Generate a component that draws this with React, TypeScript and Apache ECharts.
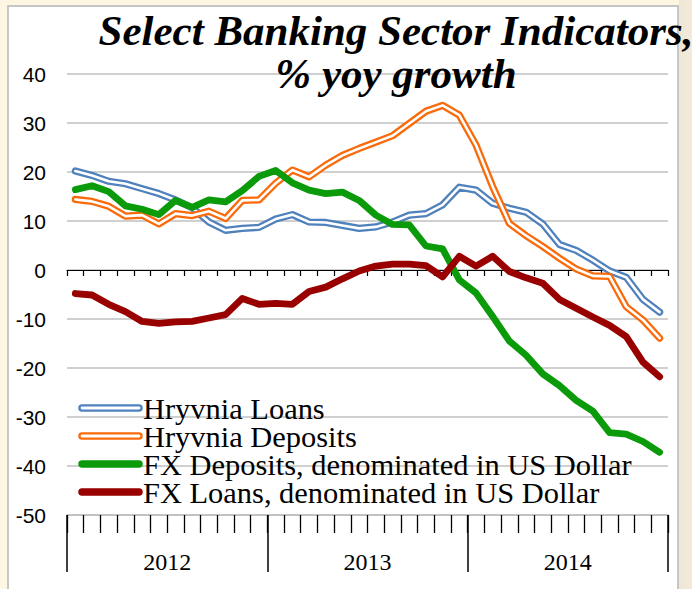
import React, { useEffect, useRef } from "react";
import * as echarts from "echarts";

const months = [
  "Jan-12", "Feb-12", "Mar-12", "Apr-12", "May-12", "Jun-12", "Jul-12", "Aug-12", "Sep-12", "Oct-12", "Nov-12", "Dec-12",
  "Jan-13", "Feb-13", "Mar-13", "Apr-13", "May-13", "Jun-13", "Jul-13", "Aug-13", "Sep-13", "Oct-13", "Nov-13", "Dec-13",
  "Jan-14", "Feb-14", "Mar-14", "Apr-14", "May-14", "Jun-14", "Jul-14", "Aug-14", "Sep-14", "Oct-14", "Nov-14", "Dec-14",
];
const years = ["2012", "2013", "2014"];

const hryvniaLoans = [
  20.2, 19.3, 18.1, 17.6, 16.6, 15.6, 14.3, 12.7, 9.8, 8.1, 8.5, 8.7,
  10.4, 11.3, 9.8, 9.7, 9.1, 8.5, 8.8, 9.8, 11.2, 11.5, 13.3, 16.9,
  16.3, 13.6, 12.6, 11.8, 9.4, 5.2, 4.0, 2.0, -0.2, -1.5, -6.0, -8.6,
];
const hryvniaDeposits = [
  14.4, 14.0, 13.0, 11.0, 11.2, 9.4, 11.5, 11.1, 12.0, 10.5, 14.2, 14.3,
  17.7, 20.4, 19.0, 21.4, 23.4, 24.8, 26.1, 27.4, 29.9, 32.4, 33.6, 31.6,
  25.5, 17.0, 9.5, 7.0, 4.8, 2.4, 0.2, -1.2, -1.3, -7.5, -10.2, -13.9,
];
const fxDeposits = [
  16.4, 17.2, 16.0, 13.1, 12.4, 11.3, 14.2, 12.8, 14.3, 13.9, 16.2, 19.1,
  20.3, 17.8, 16.3, 15.6, 15.9, 14.2, 11.2, 9.3, 9.2, 4.9, 4.3, -2.0,
  -4.7, -9.5, -14.5, -17.4, -21.2, -23.6, -26.6, -28.8, -33.2, -33.5, -35.0, -37.2,
];
const fxLoans = [
  -4.8, -5.1, -7.0, -8.5, -10.5, -10.9, -10.6, -10.5, -9.8, -9.1, -5.8, -7.0,
  -6.8, -7.0, -4.4, -3.5, -1.8, -0.2, 0.8, 1.2, 1.2, 0.9, -1.4, 2.8,
  0.8, 2.8, -0.3, -1.6, -2.7, -6.0, -7.8, -9.6, -11.3, -13.6, -18.8, -21.8,
];

const legendNames = [
  "Hryvnia Loans",
  "Hryvnia Deposits",
  "FX Deposits, denominated in US Dollar",
  "FX Loans, denominated in US Dollar",
];

const BLUE = "#4f81bd";
const ORANGE = "#fa6a0a";
const GREEN = "#0a9a0a";
const DARKRED = "#990000";

export default function App() {
  const ref = useRef<HTMLDivElement>(null);
  useEffect(() => {
    document.body.style.margin = "0";
    const chart = echarts.init(ref.current!, null, { renderer: "svg" });
    const serif = "'Liberation Serif', 'Times New Roman', serif";
    const sans = "'Liberation Sans', Arial, sans-serif";
    const lineSeries = (name: string, data: number[], color: string, width: number, z: number) => ({
      name,
      type: "line",
      data,
      symbol: "none",
      z,
      lineStyle: { color, width, join: "round", cap: "round" },
      itemStyle: { color },
      emphasis: { disabled: true },
      silent: true,
    });
    const legendColors = [BLUE, ORANGE, GREEN, DARKRED];
    const rowY = [409, 437, 465, 493];
    const legendGraphics: any[] = [];
    legendNames.forEach((_name, i) => {
      const y = rowY[i] - 1;
      legendGraphics.push({
        type: "line",
        shape: { x1: 82, y1: y, x2: 139, y2: y },
        style: { stroke: legendColors[i], lineWidth: 7.5, lineCap: "round" },
        z: 100,
      });
      if (i < 2) {
        legendGraphics.push({
          type: "line",
          shape: { x1: 82, y1: y, x2: 139, y2: y },
          style: { stroke: "#ffffff", lineWidth: 2.8, lineCap: "round" },
          z: 101,
        });
      }
    });
    legendGraphics.push({
      type: "text",
      x: 143,
      y: rowY[0] - 14,
      scaleX: 1.05,
      style: {
        text: legendNames.join("\n"),
        font: `29px ${serif}`,
        lineHeight: 28,
        fill: "#000",
        textAlign: "left",
        textVerticalAlign: "top",
        verticalAlign: "top",
      },
      z: 100,
    });

    chart.setOption({
      animation: false,
      backgroundColor: "transparent",
      grid: { left: 67, top: 74, width: 601, height: 441, containLabel: false },
      xAxis: [
        {
          type: "category",
          data: months,
          boundaryGap: true,
          position: "bottom",
          axisLine: { show: true, onZero: true, lineStyle: { color: "#000", width: 1.2 } },
          axisTick: { show: true, interval: 0, length: 6, lineStyle: { color: "#000", width: 1.2 } },
          axisLabel: { show: false },
          splitLine: { show: false },
        },
        {
          type: "category",
          data: months,
          boundaryGap: true,
          position: "bottom",
          axisLine: { show: true, onZero: false, lineStyle: { color: "#bdbdbd", width: 1.5 } },
          axisTick: { show: true, interval: 0, length: 18, lineStyle: { color: "#000", width: 1.3 } },
          axisLabel: { show: false },
          splitLine: { show: false },
        },
        {
          type: "category",
          data: years,
          boundaryGap: true,
          position: "bottom",
          axisLine: { show: false, onZero: false },
          axisTick: { show: true, interval: 0, length: 57, lineStyle: { color: "#000", width: 1.5 } },
          axisLabel: {
            show: true,
            interval: 0,
            margin: 35,
            fontFamily: serif,
            fontSize: 24,
            color: "#000",
          },
          splitLine: { show: false },
        },
      ],
      yAxis: {
        type: "value",
        min: -50,
        max: 40,
        interval: 10,
        axisLine: { show: false },
        axisTick: { show: false },
        axisLabel: { margin: 21, fontFamily: sans, fontSize: 21, color: "#000" },
        splitLine: { show: true, lineStyle: { color: "#c0c0c0", width: 1.5 } },
      },
      series: [
        lineSeries(legendNames[0], hryvniaLoans, BLUE, 7.2, 2),
        lineSeries(legendNames[0] + " core", hryvniaLoans, "#ffffff", 2.6, 3),
        lineSeries(legendNames[1], hryvniaDeposits, ORANGE, 7.2, 4),
        lineSeries(legendNames[1] + " core", hryvniaDeposits, "#ffffff", 2.6, 5),
        lineSeries(legendNames[2], fxDeposits, GREEN, 6.8, 6),
        lineSeries(legendNames[3], fxLoans, DARKRED, 6.8, 7),
      ],
      graphic: [
        {
          type: "text",
          x: 396,
          y: 9,
          style: {
            text: "Select Banking Sector Indicators,\n% yoy growth",
            font: `italic bold 43px ${serif}`,
            lineHeight: 43,
            fill: "#000",
            textAlign: "center",
            textVerticalAlign: "top",
            verticalAlign: "top",
          },
          z: 100,
        },
        ...legendGraphics,
      ],
    });
    return () => chart.dispose();
  }, []);

  return (
    <div style={{ position: "fixed", left: 0, top: 0, width: 692, height: 589, background: "#fdf6e3", overflow: "hidden" }}>
      <div
        style={{
          position: "absolute",
          left: 679,
          top: 0,
          width: 13,
          height: 589,
          background: "linear-gradient(to right, #efe7d6, #f3ead8)",
        }}
      />
      <div
        style={{
          position: "absolute",
          left: 7,
          top: 5,
          width: 672,
          height: 600,
          background: "#ffffff",
          border: "2px solid #c6c6c6",
          boxSizing: "border-box",
        }}
      />
      <div ref={ref} style={{ position: "absolute", left: 0, top: 0, width: 692, height: 589 }} />
    </div>
  );
}
